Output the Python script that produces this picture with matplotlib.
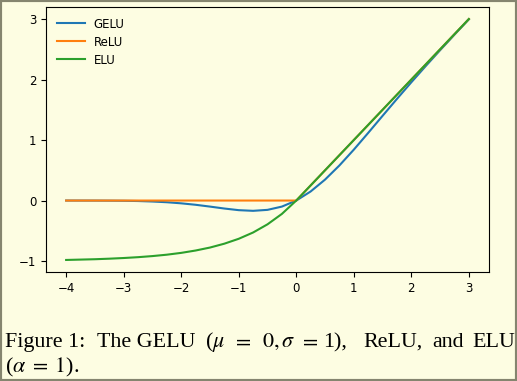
import matplotlib
matplotlib.use("Agg")
import matplotlib.pyplot as plt
from matplotlib.patches import Rectangle

# sample points
x_vals = [-4.0, -3.75, -3.5, -3.25, -3.0, -2.75, -2.5, -2.25, -2.0, -1.75, -1.5,
          -1.25, -1.0, -0.75, -0.5, -0.25, 0.0, 0.25, 0.5, 0.75, 1.0, 1.25, 1.5,
          1.75, 2.0, 2.25, 2.5, 2.75, 3.0]
gelu = [0.0, -0.0003, -0.0008, -0.002, -0.004, -0.008, -0.016, -0.028, -0.046,
        -0.070, -0.100, -0.132, -0.159, -0.170, -0.154, -0.100, 0.0, 0.150, 0.346,
        0.580, 0.841, 1.118, 1.400, 1.680, 1.955, 2.223, 2.485, 2.742, 2.996]
relu = [0.0, 0.0, 0.0, 0.0, 0.0, 0.0, 0.0, 0.0, 0.0, 0.0, 0.0, 0.0, 0.0, 0.0,
        0.0, 0.0, 0.0, 0.25, 0.5, 0.75, 1.0, 1.25, 1.5, 1.75, 2.0, 2.25, 2.5,
        2.75, 3.0]
elu = [-0.982, -0.976, -0.970, -0.961, -0.950, -0.936, -0.918, -0.895, -0.865,
       -0.826, -0.777, -0.713, -0.632, -0.528, -0.393, -0.221, 0.0, 0.25, 0.5,
       0.75, 1.0, 1.25, 1.5, 1.75, 2.0, 2.25, 2.5, 2.75, 3.0]

# caption words (justified line) and their left edges in pixels
caption_words = ["Figure 1:", "The GELU", r"($\mu$", r"$=$", r"$0,\sigma$",
                 r"$=$", "1),", "ReLU,", "and", "ELU"]
caption_x = [5, 97, 205, 232, 262, 299, 323, 363, 432, 472]
caption_line2 = r"($\alpha\;=\;1$)."

bg = "#fdfde2"
plt.rcParams["mathtext.fontset"] = "stix"

W, H = 517, 381
fig = plt.figure(figsize=(W / 100, H / 100), dpi=100, facecolor=bg)
ax = fig.add_axes([46 / W, 1 - 272 / H, 443 / W, 265 / H])
ax.set_facecolor(bg)

ax.plot(x_vals, gelu, color="tab:blue", lw=1.5, label="GELU")
ax.plot(x_vals, relu, color="tab:orange", lw=1.5, label="ReLU")
ax.plot(x_vals, elu, color="tab:green", lw=1.5, label="ELU")

ax.set_xticks([-4, -3, -2, -1, 0, 1, 2, 3])
ax.set_yticks([-1, 0, 1, 2, 3])
ax.tick_params(labelsize=8.5)
ax.legend(loc="upper left", frameon=False, fontsize=8.5, handlelength=2.4,
          handletextpad=0.75, labelspacing=0.42, borderaxespad=0.5)

for word, px in zip(caption_words, caption_x):
    fig.text(px / W, 1 - 347 / H, word, family="Liberation Serif",
             fontsize=15.8, va="baseline", ha="left")
fig.text(5 / W, 1 - 372 / H, caption_line2, family="Liberation Serif",
         fontsize=15.8, va="baseline", ha="left")

fig.patches.append(Rectangle((0, 0), 1, 1, transform=fig.transFigure,
                             fill=False, edgecolor="#85856f", lw=3))

fig.savefig("out.png", dpi=100, facecolor=bg)
